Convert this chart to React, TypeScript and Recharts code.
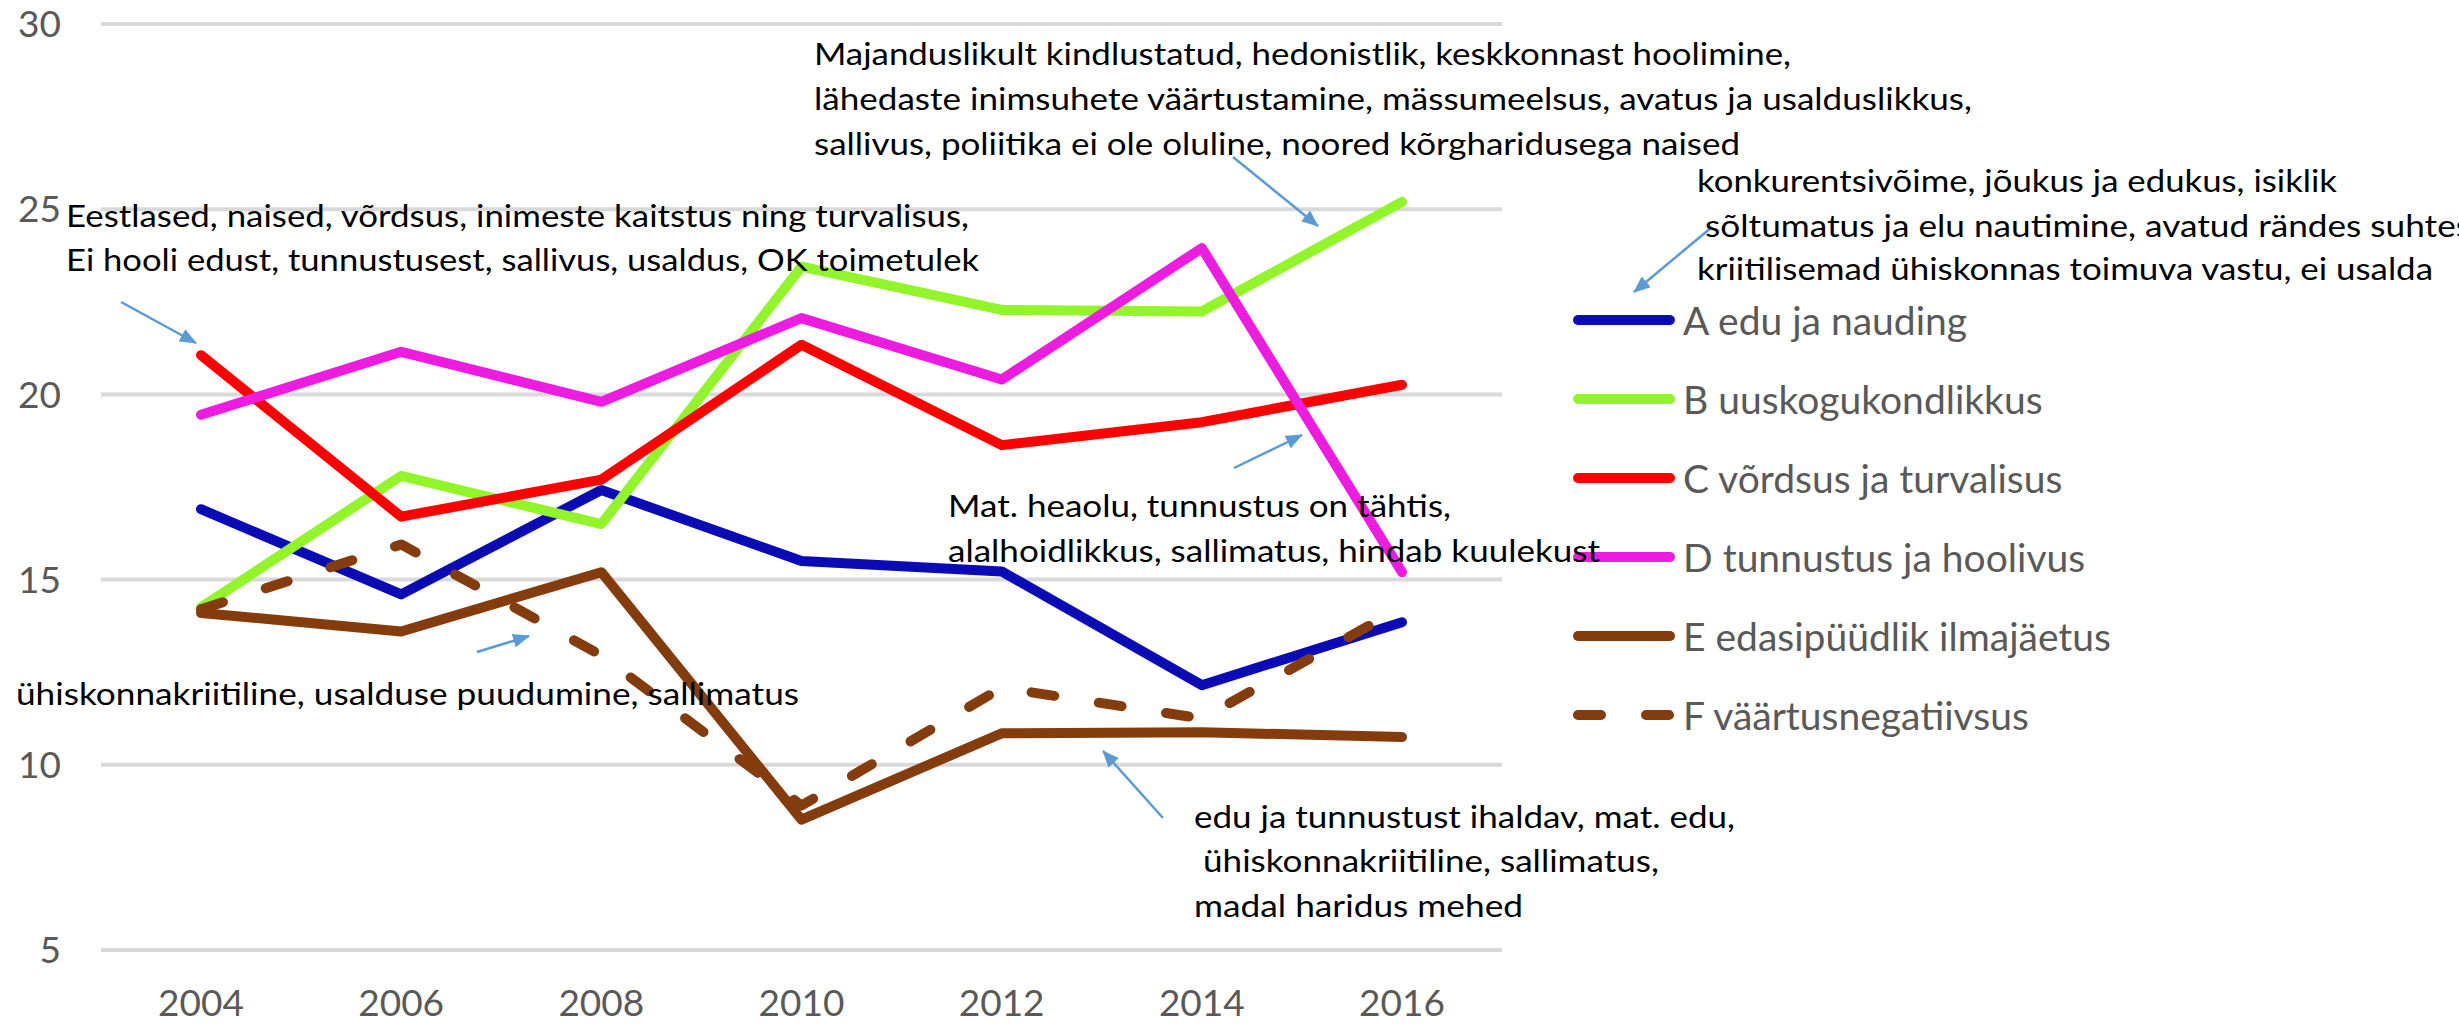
import React from "react";
import { LineChart, Line, XAxis, YAxis, CartesianGrid, Legend } from "recharts";

const years = ["2004", "2006", "2008", "2010", "2012", "2014", "2016"];

// A..F value groups
const eduJaNauding = [16.9, 14.6, 17.42, 15.5, 15.22, 12.15, 13.85];
const uuskogukondlikkus = [14.25, 17.8, 16.5, 23.45, 22.28, 22.24, 25.2];
const vordsusJaTurvalisus = [21.06, 16.7, 17.7, 21.34, 18.63, 19.25, 20.26];
const tunnustusJaHoolivus = [19.45, 21.15, 19.8, 22.06, 20.4, 23.95, 15.2];
const edasipuudlikIlmajaetus = [14.1, 13.6, 15.2, 8.52, 10.85, 10.88, 10.75];
const vaartusnegatiivsus = [14.2, 15.95, 12.95, 8.9, 12.08, 11.25, 14.25];

const yTicks = [5, 10, 15, 20, 25, 30];

const seriesKeys = ["A", "B", "C", "D", "E", "F"];
const seriesNames = [
  "A edu ja nauding",
  "B uuskogukondlikkus",
  "C võrdsus ja turvalisus",
  "D tunnustus ja hoolivus",
  "E edasipüüdlik ilmajäetus",
  "F väärtusnegatiivsus",
];
const seriesValues = [
  eduJaNauding,
  uuskogukondlikkus,
  vordsusJaTurvalisus,
  tunnustusJaHoolivus,
  edasipuudlikIlmajaetus,
  vaartusnegatiivsus,
];
const seriesColors = ["#0b0bb5", "#92f52a", "#ff0000", "#ee1ce0", "#843c0c", "#843c0c"];

const data = years.map((year, i) => {
  const row: Record<string, string | number> = { year };
  seriesKeys.forEach((k, s) => {
    row[k] = seriesValues[s][i];
  });
  return row;
});

const FONT = "Lato, 'Open Sans', sans-serif";
const DASH = "23 45";
const ARROW = "#5b9bd5";

// text boxes pasted over the chart (x, baseline, line width)
const notes = [
  { text: "Majanduslikult kindlustatud, hedonistlik, keskkonnast hoolimine,", x: 814, y: 65, w: 977 },
  { text: "lähedaste inimsuhete väärtustamine, mässumeelsus, avatus ja usalduslikkus,", x: 814, y: 110, w: 1158 },
  { text: "sallivus, poliitika ei ole oluline, noored kõrgharidusega naised", x: 814, y: 155, w: 926 },
  { text: "konkurentsivõime, jõukus ja edukus, isiklik", x: 1697, y: 192, w: 640 },
  { text: "sõltumatus ja elu nautimine, avatud rändes suhtes", x: 1705, y: 237, w: 766 },
  { text: "kriitilisemad ühiskonnas toimuva vastu, ei usalda", x: 1697, y: 280, w: 736 },
  { text: "Eestlased, naised, võrdsus, inimeste kaitstus ning turvalisus,", x: 66, y: 227, w: 903 },
  { text: "Ei hooli edust, tunnustusest, sallivus, usaldus, OK toimetulek", x: 66, y: 271, w: 913 },
  { text: "Mat. heaolu, tunnustus on tähtis,", x: 948, y: 517, w: 503 },
  { text: "alalhoidlikkus, sallimatus, hindab kuulekust", x: 948, y: 562, w: 652 },
  { text: "ühiskonnakriitiline, usalduse puudumine, sallimatus", x: 16, y: 705, w: 783 },
  { text: "edu ja tunnustust ihaldav, mat. edu,", x: 1194, y: 828, w: 541 },
  { text: "ühiskonnakriitiline, sallimatus,", x: 1203, y: 872, w: 456 },
  { text: "madal haridus mehed", x: 1194, y: 917, w: 329 },
];

const arrows = [
  { x1: 1233, y1: 157, x2: 1318, y2: 226 },
  { x1: 1712, y1: 227, x2: 1634, y2: 292 },
  { x1: 121, y1: 302, x2: 196, y2: 343 },
  { x1: 1234, y1: 468, x2: 1302, y2: 435 },
  { x1: 477, y1: 652, x2: 529, y2: 636 },
  { x1: 1163, y1: 818, x2: 1103, y2: 751 },
];

function LegendBox({ payload }: any) {
  return (
    <div style={{ fontFamily: FONT }}>
      {(payload || []).map((entry: any) => (
        <div key={entry.value} style={{ display: "flex", alignItems: "center", height: 79 }}>
          <svg width={112} height={20} style={{ flex: "none" }}>
            <line
              x1={10}
              x2={102}
              y1={10}
              y2={10}
              stroke={entry.color}
              strokeWidth={10}
              strokeLinecap="round"
              strokeDasharray={entry.dataKey === "F" ? DASH : undefined}
            />
          </svg>
          <span style={{ color: "#595959", fontSize: 39, marginLeft: 3, whiteSpace: "nowrap" }}>
            {entry.value}
          </span>
        </div>
      ))}
    </div>
  );
}

export default function App() {
  return (
    <div
      style={{
        position: "absolute",
        left: 0,
        top: 0,
        width: 2459,
        height: 1027,
        background: "#fff",
        overflow: "hidden",
        fontFamily: FONT,
      }}
    >
      <LineChart width={2459} height={1027} data={data} margin={{ top: 24, right: 957, bottom: 0, left: 0 }}>
        <CartesianGrid vertical={false} stroke="#d9d9d9" strokeWidth={4} />
        <XAxis
          dataKey="year"
          padding={{ left: 100, right: 100 }}
          axisLine={false}
          tickLine={false}
          tickSize={0}
          tickMargin={40}
          height={77}
          tick={{ fill: "#595959", fontSize: 37, fontFamily: FONT }}
        />
        <YAxis
          domain={[5, 30]}
          ticks={yTicks}
          axisLine={false}
          tickLine={false}
          tickSize={0}
          tickMargin={40}
          width={101}
          tick={{ fill: "#595959", fontSize: 37, fontFamily: FONT }}
        />
        {seriesKeys.map((k, s) => (
          <Line
            key={k}
            type="linear"
            dataKey={k}
            name={seriesNames[s]}
            stroke={seriesColors[s]}
            strokeWidth={10}
            strokeLinecap="round"
            strokeLinejoin="round"
            strokeDasharray={k === "F" ? DASH : undefined}
            dot={false}
            activeDot={false}
            isAnimationActive={false}
          />
        ))}
        <Legend
          content={<LegendBox />}
          layout="vertical"
          align="center"
          verticalAlign="middle"
          wrapperStyle={{ left: 1568, top: 280, width: 880 }}
        />
      </LineChart>
      <svg
        width={2459}
        height={1027}
        style={{ position: "absolute", left: 0, top: 0, pointerEvents: "none" }}
      >
        <defs>
          <marker
            id="arrowHead"
            markerUnits="userSpaceOnUse"
            markerWidth={17}
            markerHeight={14}
            refX={16}
            refY={7}
            orient="auto"
          >
            <path d="M0,0 L17,7 L0,14 z" fill={ARROW} />
          </marker>
        </defs>
        {arrows.map((a, i) => (
          <line key={i} {...a} stroke={ARROW} strokeWidth={2.5} markerEnd="url(#arrowHead)" />
        ))}
        {notes.map((n, i) => (
          <text
            key={i}
            x={n.x}
            y={n.y}
            textLength={n.w}
            lengthAdjust="spacingAndGlyphs"
            fontSize={31}
            fontFamily={FONT}
            fill="#000"
          >
            {n.text}
          </text>
        ))}
      </svg>
    </div>
  );
}
